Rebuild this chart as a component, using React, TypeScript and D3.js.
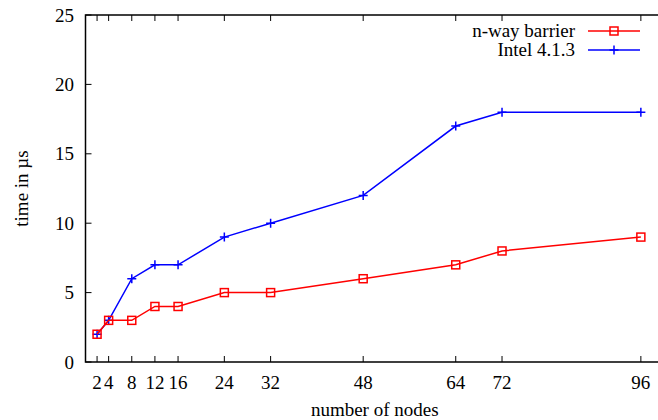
import React from "react";
import * as d3 from "d3";

const nodes = [2, 4, 8, 12, 16, 24, 32, 48, 64, 72, 96];
const nwayBarrier = [2, 3, 3, 4, 4, 5, 5, 6, 7, 8, 9];
const intel413 = [2, 3, 6, 7, 7, 9, 10, 12, 17, 18, 18];
const yTicks = [0, 5, 10, 15, 20, 25];
const seriesNames = ["n-way barrier", "Intel 4.1.3"];
const seriesColors = ["#ff0000", "#0000ff"];

const W = 658;
const H = 420;
const M = { left: 85.5, right: 664, top: 15, bottom: 362 };
const TS = { fontFamily: "Liberation Serif" };

export default function App() {
  const x = d3.scaleLinear().domain([0, 100]).range([M.left, M.right]);
  const y = d3.scaleLinear().domain([0, 25]).range([M.bottom, M.top]);
  const line = d3
    .line<[number, number]>()
    .x((d) => x(d[0]))
    .y((d) => y(d[1]));
  const series = [nwayBarrier, intel413].map((vals) =>
    nodes.map((n, i) => [n, vals[i]] as [number, number])
  );
  const tl = 6;
  const marker = (k: number, cx: number, cy: number, key: string) =>
    k === 0 ? (
      <rect key={key} x={cx - 4} y={cy - 4} width={8} height={8} fill="none" stroke={seriesColors[0]} strokeWidth={1.5} />
    ) : (
      <path key={key} d={`M${cx - 4.5},${cy}H${cx + 4.5}M${cx},${cy - 4.5}V${cy + 4.5}`} stroke={seriesColors[1]} strokeWidth={1.5} />
    );
  return (
    <svg width={W} height={H} style={{ position: "absolute", left: 0, top: 0 }}>
      <rect width={W} height={H} fill="#fff" />
      {yTicks.map((t) => (
        <g key={"y" + t}>
          <line x1={M.left} x2={M.left + tl} y1={y(t)} y2={y(t)} stroke="#000" />
          <line x1={M.right} x2={M.right - tl} y1={y(t)} y2={y(t)} stroke="#000" />
          <text x={74} y={y(t)} dy="0.35em" textAnchor="end" fontSize={19} style={TS}>{t}</text>
        </g>
      ))}
      {nodes.map((t) => (
        <g key={"x" + t}>
          <line x1={x(t)} x2={x(t)} y1={M.bottom} y2={M.bottom - tl} stroke="#000" />
          <line x1={x(t)} x2={x(t)} y1={M.top} y2={M.top + tl} stroke="#000" />
          <text x={x(t)} y={389} textAnchor="middle" fontSize={19} style={TS}>{t}</text>
        </g>
      ))}
      <path d={`M${M.right},${M.top}H${M.left}V${M.bottom}H${M.right}V${M.top}`} fill="none" stroke="#000" strokeWidth={1.5} />
      {[1, 0].map((k) => (
        <g key={"s" + k}>
          <path d={line(series[k]) || ""} fill="none" stroke={seriesColors[k]} strokeWidth={1.5} />
          {series[k].map((d, i) => marker(k, x(d[0]), y(d[1]), k + "-" + i))}
        </g>
      ))}
      {seriesNames.map((name, k) => {
        const ly = 31 + k * 19;
        return (
          <g key={"l" + k}>
            <text x={575} y={ly + 6} textAnchor="end" fontSize={19} style={TS}>{name}</text>
            <line x1={588} x2={640} y1={ly} y2={ly} stroke={seriesColors[k]} strokeWidth={1.5} />
            {marker(k, 614, ly, "lm" + k)}
          </g>
        );
      })}
      <text x={(M.left + M.right) / 2} y={416} textAnchor="middle" fontSize={19} style={TS}>number of nodes</text>
      <text transform={`translate(28,${(M.top + M.bottom) / 2}) rotate(-90)`} textAnchor="middle" fontSize={19} style={TS}>time in µs</text>
    </svg>
  );
}
